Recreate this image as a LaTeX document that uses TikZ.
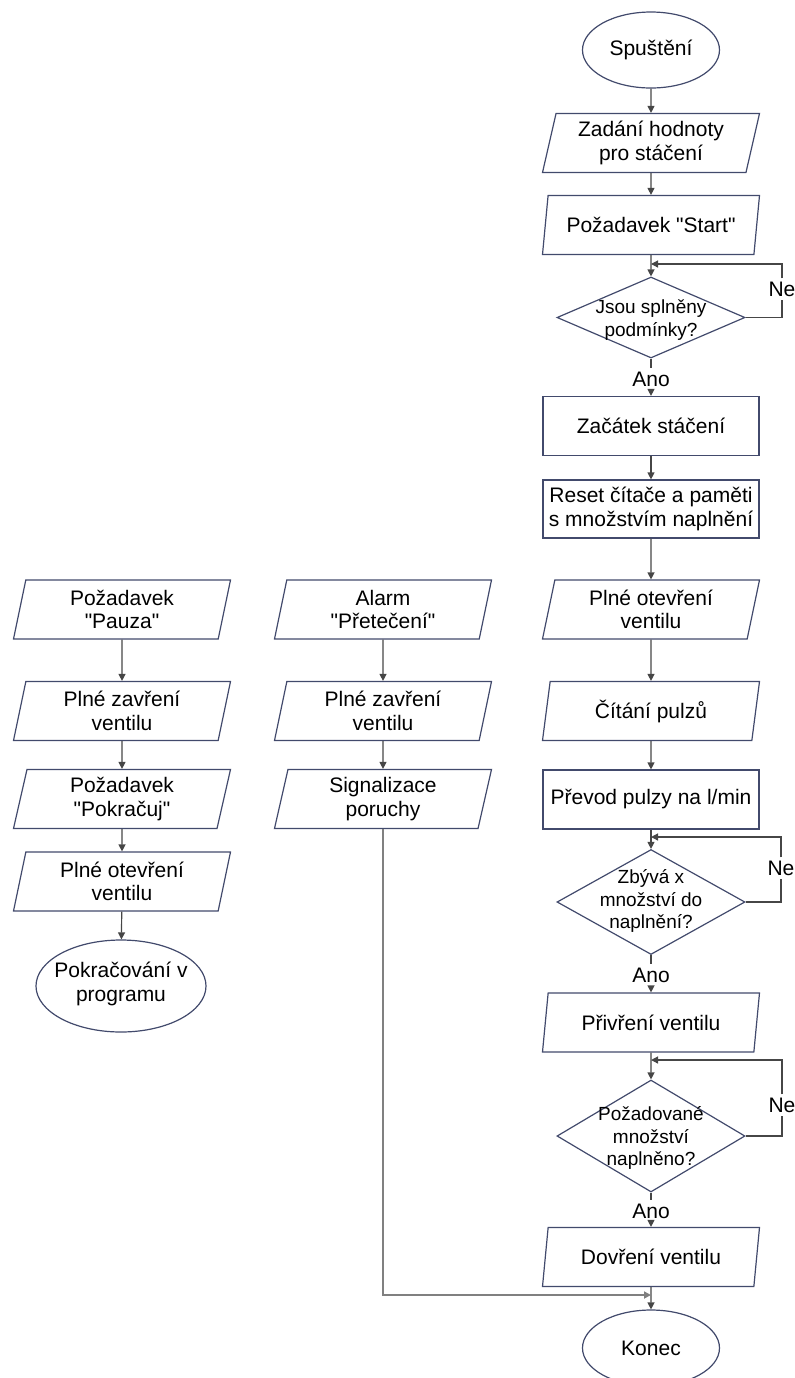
\documentclass[tikz,border=0pt]{standalone}
\usepackage{fontspec}
\setmainfont{Liberation Sans}
\usetikzlibrary{shapes.geometric,arrows.meta}

\definecolor{obrys}{RGB}{66,74,108}
\definecolor{spojnice}{RGB}{70,70,70}

\tikzset{
  pismo/.style={font=\fontsize{10.5}{11.7}\selectfont},
  vstup/.style={trapezium, trapezium left angle=74, trapezium right angle=106,
    trapezium stretches body, draw=obrys, line width=0.6pt,
    minimum width=108.5pt, minimum height=29.5pt, inner sep=1pt, align=center, pismo},
  krok/.style={rectangle, draw=obrys, line width=0.6pt,
    minimum width=108pt, minimum height=29.5pt, inner sep=1pt, align=center, pismo},
  mez/.style={ellipse, draw=obrys, line width=0.6pt,
    minimum width=68.5pt, minimum height=38pt, inner sep=0pt, align=center, pismo},
  rozhod/.style={diamond, draw=obrys, line width=0.6pt, inner sep=0pt, minimum width=94pt},
  popis/.style={inner sep=0pt, align=center, font=\fontsize{9.5}{11.2}\selectfont},
  vetev/.style={inner sep=1.5pt, pismo},
  spoj/.style={draw=spojnice, line width=0.6pt},
  dlouhy/.style={draw=black!50, line width=1pt}
}

\begin{document}
\begin{tikzpicture}[x=0.5pt, y=-0.5pt, >={Triangle[length=3.5pt,width=3.5pt]}]
  \useasboundingbox (0,0) rectangle (795,1378);

  % hlavni vetev
  \node[mez] (start) at (651,50) {Spuštění};
  \node[vstup] (zad) at (651,143) {Zadání hodnoty\\pro stáčení};
  \node[vstup] (poz) at (651,225) {Požadavek \textquotedbl Start\textquotedbl};
  \coordinate (j1) at (651,264);
  \node[rozhod, minimum height=40.5pt] (d1) at (651,317.5) {};
  \node[popis] (d1t) at (651,320) {Jsou splněny\\podmínky?};
  \node[vetev] (n1) at (782,289) {Ne};
  \node[vetev] (a1) at (651,379) {Ano};
  \node[krok] (zac) at (651,426) {Začátek stáčení};
  \node[krok, minimum height=29pt] (res) at (651,509) {Reset čítače a paměti\\s množstvím naplnění};
  \node[vstup] (ote) at (651,609.5) {Plné otevření\\ventilu};
  \node[vstup] (cit) at (651,711) {Čítání pulzů};
  \node[krok] (pre) at (651,799.5) {Převod pulzy na l/min};
  \coordinate (j2) at (651,837);
  \node[rozhod, minimum height=52.5pt] (d2) at (651,902) {};
  \node[popis] (d2t) at (651,901) {Zbývá x\\množství do\\naplnění?};
  \node[vetev] (n2) at (781,868) {Ne};
  \node[vetev] (a2) at (651,975) {Ano};
  \node[vstup] (pri) at (651,1022.5) {Přivření ventilu};
  \coordinate (j3) at (651,1060);
  \node[rozhod, minimum height=56pt] (d3) at (651,1136) {};
  \node[popis] (d3t) at (651,1138) {Požadované\\množství\\naplněno?};
  \node[vetev] (n3) at (782,1105) {Ne};
  \node[vetev] (a3) at (651,1211) {Ano};
  \node[vstup] (dov) at (651,1257) {Dovření ventilu};
  \coordinate (j4) at (651,1295);
  \node[mez] (kon) at (651,1348) {Konec};

  % pauza
  \node[vstup] (pau) at (122,609.5) {Požadavek\\\textquotedbl Pauza\textquotedbl};
  \node[vstup] (zav1) at (122,711) {Plné zavření\\ventilu};
  \node[vstup] (pok) at (122,799) {Požadavek\\\textquotedbl Pokračuj\textquotedbl};
  \node[vstup] (ote2) at (122,881.5) {Plné otevření\\ventilu};
  \node[mez, minimum width=85pt, minimum height=46pt] (pro) at (121,986) {};
  \node[inner sep=0pt, align=center, pismo] (prot) at (121,984) {Pokračování v\\programu};

  % alarm
  \node[vstup] (ala) at (383,609.5) {Alarm\\\textquotedbl Přetečení\textquotedbl};
  \node[vstup] (zav2) at (383,711) {Plné zavření\\ventilu};
  \node[vstup] (sig) at (383,799) {Signalizace\\poruchy};

  % spoje
  \draw[spoj,->] (start) -- (zad);
  \draw[spoj,->] (zad) -- (poz);
  \draw[spoj,->] (poz) -- (d1);
  \draw[spoj] (d1.east) -| (n1.south);
  \draw[spoj,->] (n1.north) |- (j1);
  \draw[spoj] (d1.south) -- (a1);
  \draw[spoj,->] (a1) -- (zac);
  \draw[spoj,->] (zac) -- (res);
  \draw[spoj,->] (res) -- (ote);
  \draw[spoj,->] (ote) -- (cit);
  \draw[spoj,->] (cit) -- (pre);
  \draw[spoj,->] (pre) -- (d2);
  \draw[spoj] (d2.east) -| (n2.south);
  \draw[spoj,->] (n2.north) |- (j2);
  \draw[spoj] (d2.south) -- (a2);
  \draw[spoj,->] (a2) -- (pri);
  \draw[spoj,->] (pri) -- (d3);
  \draw[spoj] (d3.east) -| (n3.south);
  \draw[spoj,->] (n3.north) |- (j3);
  \draw[spoj] (d3.south) -- (a3);
  \draw[spoj,->] (a3) -- (dov);
  \draw[spoj,->] (dov) -- (kon);

  \draw[spoj,->] (pau) -- (zav1);
  \draw[spoj,->] (zav1) -- (pok);
  \draw[spoj,->] (pok) -- (ote2);
  \draw[spoj,->] (ote2) -- (pro);

  \draw[spoj,->] (ala) -- (zav2);
  \draw[spoj,->] (zav2) -- (sig);
  \draw[dlouhy,->] (sig.south) |- (j4);

\end{tikzpicture}
\end{document}
